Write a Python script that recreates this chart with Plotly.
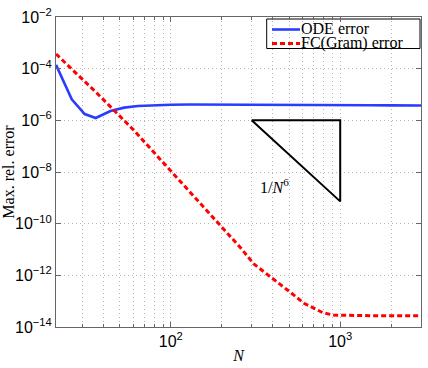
import plotly.graph_objects as go

# ---- data ----
ode_N = [21, 26, 31, 36, 44, 53, 64, 80, 100, 130, 170, 250, 400, 700, 1000, 1500, 2000, 3000]
ode_err = [1.4e-4, 6.5e-6, 1.75e-6, 1.23e-6, 2.3e-6, 3.1e-6, 3.6e-6, 3.85e-6, 4.0e-6, 4.1e-6,
           4.1e-6, 4.05e-6, 4.0e-6, 3.95e-6, 3.9e-6, 3.85e-6, 3.8e-6, 3.75e-6]

fc_N = [21, 36.4, 60.2, 98, 159, 193, 258, 309, 389, 488, 611, 700, 791, 913, 1045, 1500, 2000, 3000]
fc_err = [3.7e-4, 1.17e-5, 4.27e-7, 1.26e-8, 3.9e-10, 1.02e-10, 1.17e-11, 2.75e-12, 8.9e-13,
          2.7e-13, 8.3e-14, 5.3e-14, 3.55e-14, 2.9e-14, 2.9e-14, 2.75e-14, 2.7e-14, 2.7e-14]

tri_N = [300, 1000, 1000, 300]
tri_y = [1e-6, 1e-6, 7.29e-10, 1e-6]

y_tickvals = [1e-2, 1e-4, 1e-6, 1e-8, 1e-10, 1e-12, 1e-14]
y_ticktext = ["10<sup>\u22122</sup>", "10<sup>\u22124</sup>", "10<sup>\u22126</sup>",
              "10<sup>\u22128</sup>", "10<sup>\u221210</sup>", "10<sup>\u221212</sup>",
              "10<sup>\u221214</sup>"]
x_tickvals = [100, 1000]
x_ticktext = ["10<sup>2</sup>", "10<sup>3</sup>"]
x_minor = [30, 40, 50, 60, 70, 80, 90, 200, 300, 400, 500, 600, 700, 800, 900, 2000, 3000]

series_names = ["ODE error", "FC(Gram) error"]
series_colors = ["#2a3dff", "#ff0000"]

serif = "Liberation Serif"
sans = "Liberation Sans"

# axis ranges (log10) and plot-area geometry in pixels
XR = [1.322, 3.477]
YR = [-14, -2]
L, R, T, B = 56, 421, 17, 327
PW, PH = R - L, B - T


def px(xp):
    return (xp - L) / PW


def py(yp):
    return (B - yp) / PH


def dx(xp):
    return 10 ** (XR[0] + (xp - L) / PW * (XR[1] - XR[0]))


def dy(yp):
    return 10 ** (YR[1] - (yp - T) / PH * (YR[1] - YR[0]))


fig = go.Figure()
fig.add_trace(go.Scatter(x=ode_N, y=ode_err, mode="lines", name=series_names[0],
                         showlegend=False, line=dict(color=series_colors[0], width=2.6)))
fig.add_trace(go.Scatter(x=fc_N, y=fc_err, mode="lines", name=series_names[1],
                         showlegend=False,
                         line=dict(color=series_colors[1], width=3, dash="5px,3px")))
fig.add_trace(go.Scatter(x=tri_N, y=tri_y, mode="lines", showlegend=False,
                         line=dict(color="black", width=2)))

# slope label
fig.add_trace(go.Scatter(x=[dx(260)], y=[dy(189)], mode="text", showlegend=False,
                         text=["1/<i>N</i><sup>6</sup>"], textposition="middle right",
                         textfont=dict(family=serif, size=16, color="black"),
                         cliponaxis=False, hoverinfo="skip"))

# hand-made legend (box, samples, labels)
fig.add_shape(type="rect", xref="paper", yref="paper", x0=px(266.7), x1=px(420),
              y0=py(48.5), y1=py(19), line=dict(color="black", width=1), fillcolor="white",
              layer="between")
fig.add_shape(type="line", xref="paper", yref="paper", x0=px(272), x1=px(300),
              y0=py(29.5), y1=py(29.5), line=dict(color=series_colors[0], width=2.6),
              layer="above")
fig.add_shape(type="line", xref="paper", yref="paper", x0=px(272), x1=px(300),
              y0=py(43.5), y1=py(43.5), line=dict(color=series_colors[1], width=3,
                                                  dash="5px,3px"), layer="above")
fig.add_trace(go.Scatter(x=[dx(301), dx(301)], y=[dy(29.5), dy(43.5)], mode="text",
                         showlegend=False, text=series_names, textposition="middle right",
                         textfont=dict(family=serif, size=16, color="black"),
                         cliponaxis=False, hoverinfo="skip"))

axis_common = dict(type="log", showline=True, linecolor="#666666", linewidth=1, mirror="ticks",
                   ticks="inside", ticklen=5, tickcolor="#666666", zeroline=False,
                   showgrid=True, gridcolor="#b5b5b5", griddash="1px,3px", gridwidth=1,
                   automargin=False, tickfont=dict(family=sans, size=16, color="black"))

fig.update_layout(
    width=428, height=368,
    margin=dict(l=L, r=428 - R, t=T, b=368 - B, autoexpand=False),
    plot_bgcolor="white", paper_bgcolor="white",
    hovermode=False,
    xaxis=dict(axis_common, range=XR, tickmode="array", tickvals=x_tickvals,
               ticktext=x_ticktext,
               title=dict(text="<i>N</i>", font=dict(family=serif, size=16, color="black"),
                          standoff=0),
               minor=dict(tickmode="array", tickvals=x_minor, ticks="inside", ticklen=3,
                          tickcolor="#666666", showgrid=True, gridcolor="#b5b5b5",
                          griddash="1px,3px")),
    yaxis=dict(axis_common, range=YR, tickmode="array", tickvals=y_tickvals,
               ticktext=y_ticktext,
               title=dict(text="Max. rel. error", font=dict(family=serif, size=16, color="black"),
                          standoff=4)),
    showlegend=False,
)

fig.write_html("out.html", config={"displayModeBar": False, "staticPlot": True},
               post_script="document.body.style.margin='0px';"
                           "document.body.style.overflow='hidden';")
